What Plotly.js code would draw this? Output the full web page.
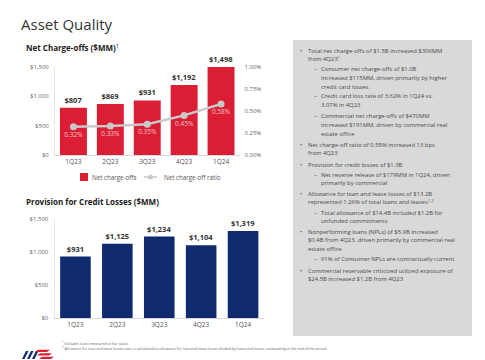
<!DOCTYPE html>
<html><head><meta charset="utf-8">
<script src="https://cdn.plot.ly/plotly-3.0.1.min.js"></script>
<style>html,body{margin:0;padding:0;background:#fff}#chart{width:485px;height:360px}</style>
</head><body><div id="chart"></div>
<script>
const quarters = ['1Q23','2Q23','3Q23','4Q23','1Q24'];
const netChargeOffs = [807, 869, 931, 1192, 1498];
const ncoRatio = [0.0032, 0.0033, 0.0035, 0.0045, 0.0058];
const provision = [931, 1125, 1234, 1104, 1319];
const dollarTicks = [0, 500, 1000, 1500];
const dollarTickText = ['$0', '$500', '$1,000', '$1,500'];
const pctTicks = [0, 0.0025, 0.005, 0.0075, 0.01];
const pctTickText = ['0.00%', '0.25%', '0.50%', '0.75%', '1.00%'];

const W = 485, H = 360;
const px = x => x / W, py = y => 1 - y / H;

const RED = '#dc1e35', NAVY = '#0f2a6e', GRAY_LINE = '#c9c9c9';
const FONT = 'Open Sans, Noto Sans, sans-serif';

const traces = [
  {type:'bar', x:quarters, y:netChargeOffs, name:'Net charge-offs', xaxis:'x', yaxis:'y',
   marker:{color:RED}, texttemplate:'<b>$%{y:,}</b>', textposition:'outside', cliponaxis:false,
   textfont:{size:7.5, color:'#333', family:FONT}, hoverinfo:'skip'},
  {type:'scatter', mode:'lines+markers+text', x:quarters, y:ncoRatio, name:'Net charge-off ratio',
   xaxis:'x', yaxis:'y2', line:{color:GRAY_LINE, width:2.5}, marker:{color:GRAY_LINE, size:7},
   texttemplate:'%{y:.2%}', textposition:'bottom center', cliponaxis:false,
   textfont:{size:6.5, color:'#f7c4cb', family:FONT}, hoverinfo:'skip'},
  {type:'bar', x:quarters, y:provision, name:'Provision', xaxis:'x2', yaxis:'y3', showlegend:false,
   marker:{color:NAVY}, texttemplate:'<b>$%{y:,}</b>', textposition:'outside', cliponaxis:false,
   textfont:{size:7.5, color:'#333', family:FONT}, hoverinfo:'skip'}
];

const tickFont = {size:6, color:'#666', family:FONT};
const catFont = {size:6.5, color:'#555', family:FONT};

// Text panel lines: [kind, yCenter(px), text]
const panel = [
  ['b',51,'Total net charge-offs of $1.5B increased $306MM'],
  ['c',59,'from 4Q23<sup>1</sup>'],
  ['s',69,'Consumer net charge-offs of $1.0B'],
  ['sc',78,'increased $115MM, driven primarily by higher'],
  ['sc',86.5,'credit card losses'],
  ['s',96.5,'Credit card loss rate of 3.62% in 1Q24 vs.'],
  ['sc',105,'3.07% in 4Q23'],
  ['s',116.5,'Commercial net charge-offs of $470MM'],
  ['sc',125,'increased $191MM, driven by commercial real'],
  ['sc',133.5,'estate office'],
  ['b',145,'Net charge-off ratio of 0.58% increased 13 bps'],
  ['c',153,'from 4Q23'],
  ['b',165.5,'Provision for credit losses of $1.3B'],
  ['s',175,'Net reserve release of $179MM in 1Q24, driven'],
  ['sc',183,'primarily by commercial'],
  ['b',194,'Allowance for loan and lease losses of $13.2B'],
  ['c',202,'represented 1.26% of total loans and leases<sup>1,2</sup>'],
  ['s',213,'Total allowance of $14.4B included $1.2B for'],
  ['sc',221,'unfunded commitments'],
  ['b',232,'Nonperforming loans (NPLs) of $5.9B increased'],
  ['c',240,'$0.4B from 4Q23, driven primarily by commercial real'],
  ['c',248.5,'estate office'],
  ['s',259,'61% of Consumer NPLs are contractually current'],
  ['b',271,'Commercial reservable criticized utilized exposure of'],
  ['c',279,'$24.5B increased $1.2B from 4Q23']
];
const pFont = {size:5.9, color:'#4a4a4a', family:FONT};
const ann = (text, x, y, font, extra) => Object.assign({text, x:px(x), y:py(y), xref:'paper', yref:'paper',
  xanchor:'left', yanchor:'middle', showarrow:false, font}, extra || {});
const annotations = [
  ann('Asset Quality', 19, 24, {size:15, color:'#333', family:FONT}),
  ann('<b>Net Charge-offs ($MM)</b><sup>1</sup>', 24, 48, {size:8, color:'#222', family:FONT}),
  ann('<b>Provision for Credit Losses ($MM)</b>', 24, 201, {size:8, color:'#222', family:FONT}),
  ann('<sup>1</sup> Excludes loans measured at fair value.', 60, 343, {size:3.6, color:'#666', family:FONT}),
  ann('<sup>2</sup> Allowance for loan and lease losses ratio is calculated as allowance for loan and lease losses divided by loans and leases outstanding at the end of the period.', 60, 348, {size:3.6, color:'#666', family:FONT}),
  // legend
  ann('Net charge-offs', 90, 177, {size:6.2, color:'#555', family:FONT}),
  ann('Net charge-off ratio', 162, 177, {size:6.2, color:'#555', family:FONT})
];
panel.forEach(([k,y,t]) => {
  let x;
  if (k==='b') { x = 306; annotations.push(ann('•', 298, y, pFont)); }
  else if (k==='c') x = 306;
  else if (k==='s') { x = 319; annotations.push(ann('–', 312, y, pFont)); }
  else x = 319;
  annotations.push(ann(t, x, y, pFont));
});

const shapes = [
  {type:'rect', xref:'paper', yref:'paper', x0:px(293), x1:px(472), y0:py(336), y1:py(40), fillcolor:'#d9d9d9', line:{width:0}, layer:'below'},
  // legend swatches
  {type:'rect', xref:'paper', yref:'paper', x0:px(80), x1:px(88), y0:py(181), y1:py(173), fillcolor:RED, line:{width:0}},
  {type:'line', xref:'paper', yref:'paper', x0:px(144), x1:px(157), y0:py(177), y1:py(177), line:{color:GRAY_LINE, width:1.5}},
  {type:'circle', xref:'paper', yref:'paper', x0:px(148), x1:px(153), y0:py(179.5), y1:py(174.5), fillcolor:GRAY_LINE, line:{width:0}}
];
// logo stripes
const stripe = (x,y,w,h,s,c) => ({type:'path', xref:'paper', yref:'paper',
  path:`M ${px(x)} ${py(y)} L ${px(x+w)} ${py(y)} L ${px(x+w+s)} ${py(y-h)} L ${px(x+s)} ${py(y-h)} Z`, fillcolor:c, line:{width:0}});
[[22,359],[27,359],[32,359]].forEach(([x,y]) => shapes.push(stripe(x,y,2.5,8,4,NAVY)));
[[35,352],[37,355.5],[39,359]].forEach(([x,y]) => shapes.push(stripe(x,y,12,2.2,3,RED)));

const layout = {
  width:W, height:H, margin:{l:0,r:0,t:0,b:0}, paper_bgcolor:'#fff', plot_bgcolor:'rgba(0,0,0,0)',
  font:{family:FONT}, bargap:0.27, showlegend:false,
  xaxis:{domain:[px(55), px(239.5)], anchor:'y', type:'category', showgrid:false, zeroline:false,
    showline:true, linecolor:'#d8d8d8', linewidth:1, ticks:'', tickfont:catFont},
  yaxis:{domain:[py(155), py(67)], anchor:'x', range:[0,1500], tickvals:dollarTicks, ticktext:dollarTickText,
    showgrid:false, zeroline:false, showline:true, linecolor:'#e6e6e6', ticks:'', tickfont:tickFont, ticklabelstandoff:4},
  yaxis2:{overlaying:'y', side:'right', anchor:'x', range:[0,0.01], tickvals:pctTicks, ticktext:pctTickText,
    showgrid:false, zeroline:false, showline:false, ticks:'', tickfont:tickFont, ticklabelstandoff:4},
  xaxis2:{domain:[px(54.5), px(264)], anchor:'y3', type:'category', showgrid:false, zeroline:false,
    showline:true, linecolor:'#d8d8d8', linewidth:1, ticks:'', tickfont:catFont},
  yaxis3:{domain:[py(318), py(219)], anchor:'x2', range:[0,1500], tickvals:dollarTicks, ticktext:dollarTickText,
    showgrid:false, zeroline:false, showline:true, linecolor:'#e6e6e6', ticks:'', tickfont:tickFont, ticklabelstandoff:4},
  annotations, shapes
};
Plotly.newPlot('chart', traces, layout, {staticPlot:true, displayModeBar:false});
</script></body></html>
